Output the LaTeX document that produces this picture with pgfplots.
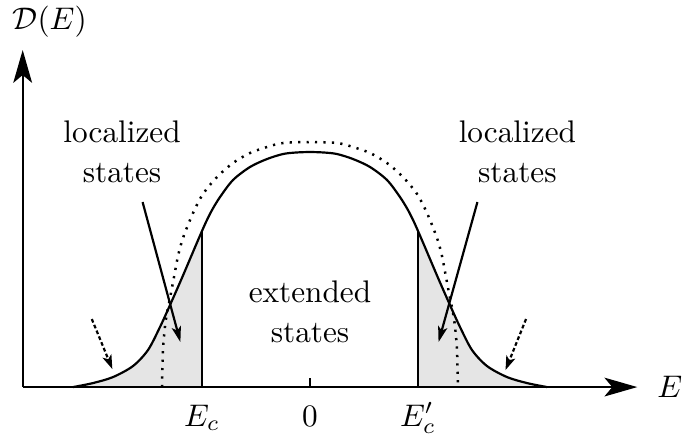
\documentclass[border=0pt]{standalone}
\usepackage{pgfplots}
\pgfplotsset{compat=1.18}
\usetikzlibrary{arrows.meta}

% solid density of states (band centre plus tails)
\pgfplotstableread{
x y
-2.194 0
-2.009 0.04
-1.824 0.10
-1.639 0.21
-1.500 0.37
-1.389 0.60
-1.296 0.82
-1.194 1.07
-1.111 1.28
-1.056 1.42
-1.000 1.56
-0.963 1.65
-0.907 1.77
-0.833 1.90
-0.713 2.07
-0.556 2.20
-0.398 2.28
-0.250 2.33
-0.130 2.345
0.000 2.35
0.130 2.345
0.250 2.33
0.398 2.28
0.556 2.20
0.713 2.07
0.833 1.90
0.907 1.77
0.963 1.65
1.000 1.56
1.056 1.42
1.111 1.28
1.194 1.07
1.296 0.82
1.389 0.60
1.500 0.37
1.639 0.21
1.824 0.10
2.009 0.04
2.194 0
}\dos

\pgfplotstableread{
x y
-2.194 0
-2.009 0.04
-1.824 0.10
-1.639 0.21
-1.500 0.37
-1.389 0.60
-1.296 0.82
-1.194 1.07
-1.111 1.28
-1.056 1.42
-1.000 1.56
}\lefttail

\pgfplotstableread{
x y
1.000 1.56
1.056 1.42
1.111 1.28
1.194 1.07
1.296 0.82
1.389 0.60
1.500 0.37
1.639 0.21
1.824 0.10
2.009 0.04
2.194 0
}\righttail

% dotted ideal band
\pgfplotstableread{
x y
-1.370 0
-1.361 0.37
-1.343 0.60
-1.324 0.74
-1.296 0.89
-1.259 1.10
-1.222 1.31
-1.176 1.49
-1.083 1.74
-0.991 1.93
-0.861 2.10
-0.713 2.24
-0.556 2.34
-0.398 2.40
-0.250 2.44
0.000 2.45
0.250 2.44
0.398 2.40
0.556 2.34
0.713 2.24
0.861 2.10
0.991 1.93
1.083 1.74
1.176 1.49
1.222 1.31
1.259 1.10
1.296 0.89
1.324 0.74
1.343 0.60
1.361 0.37
1.370 0
}\ideal

\begin{document}
\begin{tikzpicture}
\begin{axis}[
  x=34.56pt, y=32pt,
  xmin=-2.66, xmax=3.03, ymin=0, ymax=3.37,
  hide axis, clip=false,
  every axis plot/.append style={line width=0.7pt},
]
  \addplot[fill=gray!20, draw=none, smooth] table {\lefttail} \closedcycle;
  \addplot[fill=gray!20, draw=none, smooth] table {\righttail} \closedcycle;

  \addplot[black, dotted, line width=0.8pt, smooth] table {\ideal};
  \addplot[black, smooth] table {\dos};

  \addplot[black, line width=0.8pt] coordinates {(-1,0) (-1,1.56)};
  \addplot[black, line width=0.8pt] coordinates {(1,0) (1,1.56)};
  \addplot[black] coordinates {(0,0) (0,0.09)};

  % axes
  \addplot[black, -{Stealth[length=10.5pt, width=6pt, inset=2.5pt]}] coordinates {(-2.66,0) (3.03,0)};
  \addplot[black, -{Stealth[length=10.5pt, width=6pt, inset=2.5pt]}] coordinates {(-2.66,0) (-2.66,3.37)};

  % pointers
  \addplot[black, -{Stealth[length=5pt, width=3pt, inset=1.2pt]}] coordinates {(-1.55,1.85) (-1.20,0.45)};
  \addplot[black, -{Stealth[length=5pt, width=3pt, inset=1.2pt]}] coordinates {(1.55,1.85) (1.19,0.45)};
  \addplot[black, line width=0.7pt, dash pattern=on 1.2pt off 0.8pt, -{Stealth[length=4.5pt, width=3pt, inset=1.1pt]}] coordinates {(-2.02,0.68) (-1.83,0.18)};
  \addplot[black, line width=0.7pt, dash pattern=on 1.2pt off 0.8pt, -{Stealth[length=4.5pt, width=3pt, inset=1.1pt]}] coordinates {(2.00,0.68) (1.81,0.17)};

  \node[anchor=base, inner sep=0] at (axis cs:-1,-0.39) {$E_c$};
  \node[anchor=base, inner sep=0] at (axis cs:0,-0.39) {$0$};
  \node[anchor=base, inner sep=0] at (axis cs:1,-0.39) {$E_c'$};
  \node[inner sep=0] at (axis cs:3.33,0) {$E$};
  \node[inner sep=0] at (axis cs:-2.41,3.65) {$\mathcal{D}(E)$};

  \node[inner sep=0, align=center, font=\fontsize{10}{12.8}\selectfont] at (axis cs:-1.74,2.35) {localized\\states};
  \node[inner sep=0, align=center, font=\fontsize{10}{12.8}\selectfont] at (axis cs:1.92,2.35) {localized\\states};
  \node[inner sep=0, align=center, font=\fontsize{10}{12.8}\selectfont] at (axis cs:0,0.755) {extended\\states};

  \coordinate (bbsw) at (axis cs:-2.87,-0.50);
  \coordinate (bbne) at (axis cs:3.444,3.87);
\end{axis}
\pgfresetboundingbox
\path (bbsw) rectangle (bbne);
\end{tikzpicture}
\end{document}
